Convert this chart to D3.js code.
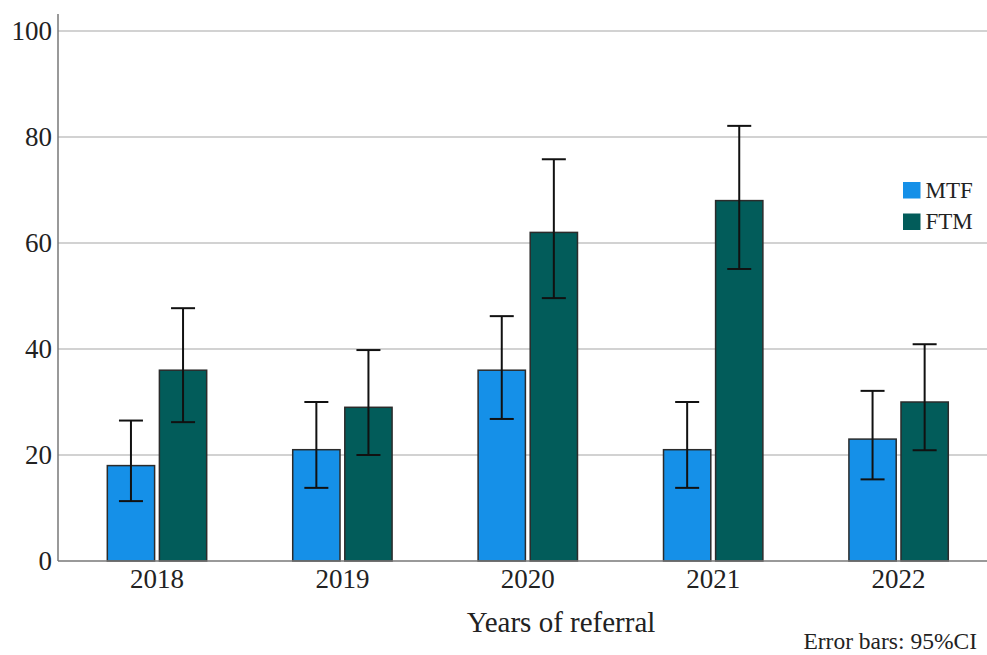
<!DOCTYPE html>
<html>
<head>
<meta charset="utf-8">
<script src="https://cdn.jsdelivr.net/npm/d3@7"></script>
<style>
  html, body { margin: 0; padding: 0; background: #fff; }
  svg { display: block; font-family: "Liberation Serif", "Times New Roman", serif; }
</style>
</head>
<body>
<svg id="chart" width="987" height="655"></svg>
<script>
// Referral counts per year, by group, with 95% CI bounds
const years = ["2018", "2019", "2020", "2021", "2022"];
const groups = ["MTF", "FTM"];
const mtfValues = [18, 21, 36, 21, 23];
const mtfLower  = [11.3, 13.8, 26.8, 13.8, 15.4];
const mtfUpper  = [26.5, 30.0, 46.2, 30.0, 32.1];
const ftmValues = [36, 29, 62, 68, 30];
const ftmLower  = [26.2, 20.0, 49.6, 55.1, 20.9];
const ftmUpper  = [47.7, 39.8, 75.8, 82.1, 40.9];
const yTicks = [0, 20, 40, 60, 80, 100];

const colors = { MTF: "#1590e8", FTM: "#025c5a" };

const rows = [];
years.forEach((yr, i) => {
  rows.push({ year: yr, group: "MTF", value: mtfValues[i], lo: mtfLower[i], hi: mtfUpper[i] });
  rows.push({ year: yr, group: "FTM", value: ftmValues[i], lo: ftmLower[i], hi: ftmUpper[i] });
});

const svg = d3.select("#chart");
const W = 987;
const axisX = 58, axisTop = 14, baseY = 561;
const serif = "Liberation Serif, serif";

const x = d3.scaleBand().domain(years).range([64.3, 991.3]).paddingInner(0.464).paddingOuter(0.232);
const xSub = d3.scaleBand().domain(groups).range([0, x.bandwidth()]).paddingInner(0.092);
const y = d3.scaleLinear().domain([0, 100]).range([baseY, 31]);

// gridlines
svg.append("g").selectAll("line")
  .data(yTicks.filter(t => t > 0))
  .join("line")
  .attr("x1", axisX).attr("x2", W)
  .attr("y1", d => y(d)).attr("y2", d => y(d))
  .attr("stroke", "#d2d2d2").attr("stroke-width", 2);

// y axis (labels only, no tick marks)
const yAxis = svg.append("g")
  .attr("transform", `translate(${axisX},0)`)
  .call(d3.axisLeft(y).tickValues(yTicks).tickSize(0).tickPadding(6).tickFormat(d3.format("d")));
yAxis.select(".domain").remove();
yAxis.attr("font-family", serif);
yAxis.selectAll("text").attr("font-size", 27).attr("fill", "#222");

// x axis labels
const xAxis = svg.append("g")
  .attr("transform", `translate(0,${baseY})`)
  .call(d3.axisBottom(x).tickSize(0).tickPadding(8));
xAxis.select(".domain").remove();
xAxis.attr("font-family", serif);
xAxis.selectAll("text").attr("font-size", 27).attr("fill", "#222");

// bars
const bars = svg.append("g");
bars.selectAll("rect")
  .data(rows)
  .join("rect")
  .attr("x", d => x(d.year) + xSub(d.group))
  .attr("width", xSub.bandwidth())
  .attr("y", d => y(d.value))
  .attr("height", d => y(0) - y(d.value))
  .attr("fill", d => colors[d.group])
  .attr("stroke", "#2b2b2b").attr("stroke-width", 1.5);

// error bars
const capHalf = 12;
const eb = svg.append("g").attr("stroke", "#111").attr("stroke-width", 2);
rows.forEach(d => {
  const cx = x(d.year) + xSub(d.group) + xSub.bandwidth() / 2;
  eb.append("line").attr("x1", cx).attr("x2", cx).attr("y1", y(d.hi)).attr("y2", y(d.lo));
  eb.append("line").attr("x1", cx - capHalf).attr("x2", cx + capHalf).attr("y1", y(d.hi)).attr("y2", y(d.hi));
  eb.append("line").attr("x1", cx - capHalf).attr("x2", cx + capHalf).attr("y1", y(d.lo)).attr("y2", y(d.lo));
});

// axis lines
svg.append("line").attr("x1", axisX).attr("x2", axisX).attr("y1", axisTop).attr("y2", baseY)
  .attr("stroke", "#777").attr("stroke-width", 1.5);
svg.append("line").attr("x1", axisX).attr("x2", W).attr("y1", baseY).attr("y2", baseY)
  .attr("stroke", "#777").attr("stroke-width", 1.5);

// axis title
svg.append("text").attr("x", 561).attr("y", 632).attr("text-anchor", "middle")
  .attr("font-size", 29).attr("fill", "#222").text("Years of referral");

// footnote
svg.append("text").attr("x", 977).attr("y", 649).attr("text-anchor", "end")
  .attr("font-size", 23.5).attr("fill", "#222").text("Error bars: 95%CI");

// legend
const legend = svg.append("g").attr("transform", "translate(903,182)");
groups.forEach((g, i) => {
  const row = legend.append("g").attr("transform", `translate(0,${i * 31.5})`);
  row.append("rect").attr("width", 17.5).attr("height", 16.5).attr("fill", colors[g]);
  row.append("text").attr("x", 22.5).attr("y", 15.5).attr("font-size", 23).attr("fill", "#222").text(g);
});
</script>
</body>
</html>
